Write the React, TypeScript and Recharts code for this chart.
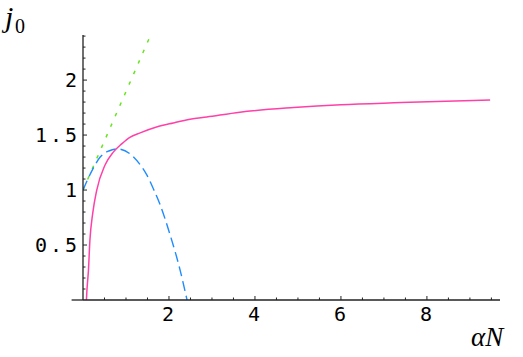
import React from "react";
import { LineChart, Line, XAxis, YAxis, ReferenceLine } from "recharts";

// curves
const pinkX = [0.08, 0.09, 0.105, 0.125, 0.16, 0.225, 0.32, 0.51, 0.705, 0.9, 1.09, 1.33, 1.71, 2.1, 2.49, 2.88, 3.65, 4.9, 6.0, 7.4, 9.47];
const pinkY = [0, 0.08, 0.16, 0.26, 0.54, 0.785, 1.0, 1.225, 1.345, 1.42, 1.48, 1.52, 1.573, 1.61, 1.643, 1.664, 1.708, 1.75, 1.776, 1.795, 1.82];

const blueX = [0, 0.24, 0.4, 0.6, 0.8, 1.09, 1.33, 1.48, 1.65, 1.79, 2.02, 2.26, 2.42];
const blueY = [1, 1.2, 1.3, 1.355, 1.374, 1.33, 1.23, 1.14, 1.0, 0.87, 0.6, 0.27, 0];

const greenX = [0, 1.574];
const greenY = [1, 2.41];

// axes
const xTicks = [0.5, 1, 1.5, 2, 2.5, 3, 3.5, 4, 4.5, 5, 5.5, 6, 6.5, 7, 7.5, 8, 8.5, 9, 9.5];
const xLabels = [2, 4, 6, 8];
const yTicks = [
  0.1, 0.2, 0.3, 0.4, 0.5, 0.6, 0.7, 0.8, 0.9, 1, 1.1, 1.2,
  1.3, 1.4, 1.5, 1.6, 1.7, 1.8, 1.9, 2, 2.1, 2.2, 2.3, 2.4,
];
const yLabels = [0.5, 1, 1.5, 2];

const axisColor = "#222";
const tickFont = "'DejaVu Sans Mono', monospace";
const mathFont = "'Liberation Serif', 'DejaVu Serif', serif";

const toPoints = (xs: number[], ys: number[]) => xs.map((x, i) => ({ x, y: ys[i] }));

const pinkData = toPoints(pinkX, pinkY);
const blueData = toPoints(blueX, blueY);
const greenData = toPoints(greenX, greenY);

const XTick = (props: any) => {
  const { x, y, payload } = props;
  const major = xLabels.includes(payload.value);
  return (
    <g>
      <line x1={x} y1={y} x2={x} y2={y - (major ? 4 : 2.5)} stroke={axisColor} strokeWidth={1} />
      {major && (
        <text x={x - 1} y={y + 21} textAnchor="middle" fontFamily={tickFont} fontSize={20} fill="#000">
          {payload.value}
        </text>
      )}
    </g>
  );
};

const YTick = (props: any) => {
  const { x, y, payload } = props;
  const major = yLabels.includes(payload.value);
  return (
    <g>
      <line x1={x} y1={y} x2={x + (major ? 4 : 2.5)} y2={y} stroke={axisColor} strokeWidth={1} />
      {major && (
        <text
          x={x - 3}
          y={y + 7.3}
          textAnchor="end"
          fontFamily={tickFont}
          fontSize={20}
          letterSpacing={3}
          fill="#000"
        >
          {String(payload.value)}
        </text>
      )}
    </g>
  );
};

const YName = () => (
  <text x={5} y={27} fontFamily={mathFont} fontStyle="italic" fontSize={30} fill="#000">
    j
    <tspan x={15} y={33} fontStyle="normal" fontSize={20}>
      0
    </tspan>
  </text>
);

const XName = () => (
  <text x={471} y={346} fontFamily={mathFont} fontStyle="italic" fontSize={27} fill="#000">
    αN
  </text>
);

export default function App() {
  return (
    <div style={{ position: "absolute", left: 0, top: 0, background: "#fff" }}>
      <LineChart width={523} height={357} margin={{ top: 35, right: 23, bottom: 0, left: 0 }}>
        <XAxis
          type="number"
          dataKey="x"
          domain={[0, 9.7]}
          ticks={xTicks}
          interval={0}
          allowDataOverflow
          height={57}
          tickSize={0}
          tickMargin={0}
          tickLine={false}
          axisLine={{ stroke: axisColor, strokeWidth: 1.3 }}
          tick={XTick}
          label={{ content: XName }}
        />
        <YAxis
          type="number"
          dataKey="y"
          domain={[0, 2.41]}
          ticks={yTicks}
          interval={0}
          allowDataOverflow
          width={83}
          tickSize={0}
          tickMargin={0}
          tickLine={false}
          axisLine={{ stroke: axisColor, strokeWidth: 1.3 }}
          tick={YTick}
          label={{ content: YName }}
        />
        <ReferenceLine
          segment={[{ x: -0.265, y: 0 }, { x: 0, y: 0 }]}
          ifOverflow="visible"
          stroke={axisColor}
          strokeWidth={1.3}
        />
        <Line
          data={greenData}
          dataKey="y"
          type="linear"
          stroke="#66e61a"
          strokeWidth={1.5}
          strokeDasharray="3.5 8"
          dot={false}
          activeDot={false}
          isAnimationActive={false}
        />
        <Line
          data={blueData}
          dataKey="y"
          type="monotone"
          stroke="#1e8cff"
          strokeWidth={1.4}
          strokeDasharray="10 5"
          dot={false}
          activeDot={false}
          isAnimationActive={false}
        />
        <Line
          data={pinkData}
          dataKey="y"
          type="monotone"
          stroke="#ff40a8"
          strokeWidth={1.5}
          dot={false}
          activeDot={false}
          isAnimationActive={false}
        />
      </LineChart>
    </div>
  );
}
